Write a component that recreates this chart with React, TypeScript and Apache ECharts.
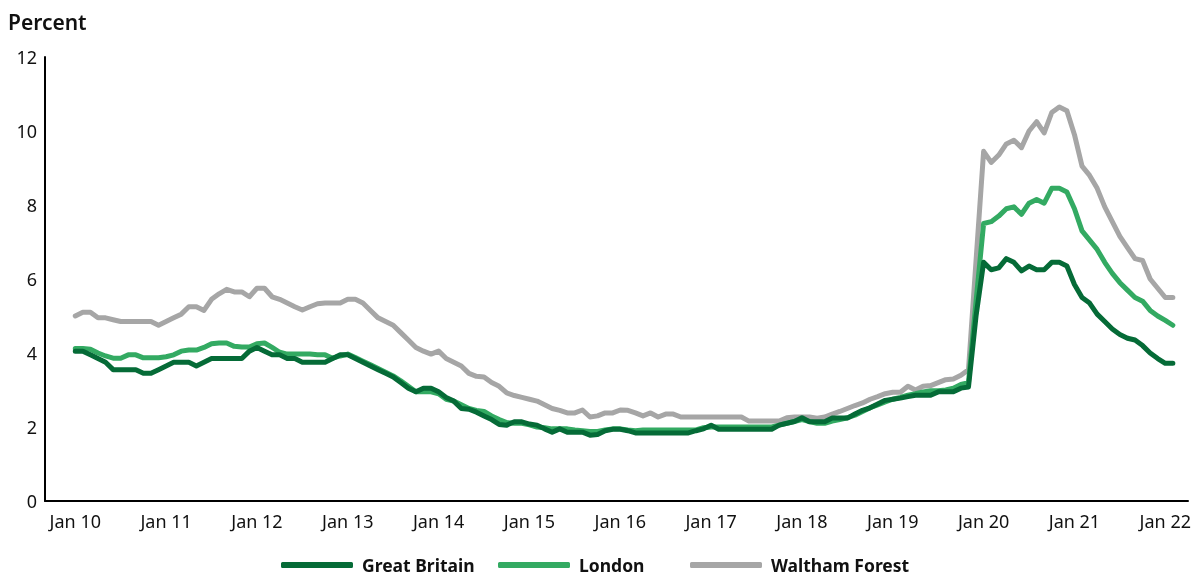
import React, { useEffect, useRef } from "react";
import * as echarts from "echarts";

const MONTH_NAMES = ["Jan", "Feb", "Mar", "Apr", "May", "Jun", "Jul", "Aug", "Sep", "Oct", "Nov", "Dec"];
const YEAR_LABELS = ["10", "11", "12", "13", "14", "15", "16", "17", "18", "19", "20", "21", "22"];

const greatBritain = [
  4.05, 4.05, 3.95, 3.85, 3.75, 3.55, 3.55, 3.55, 3.55, 3.45, 3.45, 3.55,
  3.65, 3.75, 3.75, 3.75, 3.65, 3.75, 3.85, 3.85, 3.85, 3.85, 3.85, 4.05,
  4.15, 4.05, 3.95, 3.95, 3.85, 3.85, 3.75, 3.75, 3.75, 3.75, 3.85, 3.95,
  3.95, 3.85, 3.75, 3.65, 3.55, 3.45, 3.35, 3.2, 3.05, 2.95, 3.05, 3.05,
  2.95, 2.8, 2.7, 2.5, 2.48, 2.4, 2.3, 2.2, 2.07, 2.05, 2.14, 2.14,
  2.08, 2.05, 1.95, 1.86, 1.95, 1.86, 1.86, 1.86, 1.78, 1.8, 1.9, 1.94,
  1.94, 1.9, 1.84, 1.84, 1.84, 1.84, 1.84, 1.84, 1.84, 1.84, 1.9, 1.95,
  2.05, 1.94, 1.94, 1.94, 1.94, 1.94, 1.94, 1.94, 1.94, 2.05, 2.1, 2.15,
  2.25, 2.14, 2.14, 2.14, 2.24, 2.24, 2.24, 2.35, 2.45, 2.52, 2.62, 2.72,
  2.75, 2.78, 2.82, 2.86, 2.86, 2.86, 2.95, 2.95, 2.95, 3.05, 3.08, 5.0,
  6.45, 6.25, 6.3, 6.55, 6.45, 6.22, 6.35, 6.25, 6.25, 6.45, 6.45, 6.35,
  5.85, 5.5, 5.35, 5.05, 4.85, 4.65, 4.5, 4.4, 4.35, 4.2, 4.0, 3.85,
  3.72, 3.72,
];

const london = [
  4.12, 4.12, 4.1, 4.0, 3.92, 3.86, 3.86, 3.95, 3.95, 3.87, 3.87, 3.87,
  3.9, 3.95, 4.05, 4.08, 4.08, 4.15, 4.25, 4.27, 4.27, 4.18, 4.16, 4.16,
  4.25, 4.27, 4.15, 4.02, 3.97, 3.97, 3.97, 3.97, 3.95, 3.95, 3.86, 3.92,
  3.97, 3.88, 3.78, 3.68, 3.58, 3.48, 3.38, 3.25, 3.1, 2.95, 2.95, 2.95,
  2.9, 2.75, 2.7, 2.6, 2.5, 2.45, 2.42, 2.3, 2.2, 2.12, 2.1, 2.1,
  2.06, 2.0, 1.98, 1.95, 1.95, 1.95, 1.92, 1.9, 1.88, 1.88, 1.92, 1.95,
  1.95, 1.92, 1.9, 1.92, 1.92, 1.92, 1.92, 1.92, 1.92, 1.92, 1.92, 1.98,
  2.0, 2.0, 2.0, 2.0, 2.0, 2.0, 2.0, 2.0, 2.0, 2.05, 2.1, 2.15,
  2.2, 2.15, 2.1, 2.1, 2.16, 2.2, 2.25, 2.32, 2.42, 2.52, 2.6, 2.68,
  2.75, 2.8, 2.86, 2.9, 2.95, 2.98, 2.98, 3.0, 3.05, 3.15, 3.2, 5.4,
  7.5, 7.55, 7.7, 7.9, 7.95, 7.75, 8.05, 8.15, 8.05, 8.45, 8.45, 8.35,
  7.9, 7.3, 7.05, 6.8, 6.45, 6.15, 5.9, 5.7, 5.5, 5.4, 5.15, 5.0,
  4.88, 4.75,
];

const walthamForest = [
  5.0, 5.1, 5.1, 4.95, 4.95, 4.9, 4.85, 4.85, 4.85, 4.85, 4.85, 4.75,
  4.85, 4.95, 5.05, 5.25, 5.25, 5.15, 5.45, 5.6, 5.72, 5.65, 5.65, 5.52,
  5.75, 5.75, 5.52, 5.45, 5.35, 5.25, 5.16, 5.25, 5.33, 5.35, 5.35, 5.35,
  5.45, 5.45, 5.35, 5.15, 4.95, 4.85, 4.75, 4.55, 4.35, 4.15, 4.05, 3.97,
  4.05, 3.85, 3.75, 3.65, 3.45, 3.37, 3.35, 3.2, 3.1, 2.92, 2.85, 2.8,
  2.75, 2.7, 2.6, 2.5, 2.45, 2.38, 2.38, 2.46, 2.27, 2.3, 2.38, 2.38,
  2.46, 2.45, 2.38, 2.3, 2.38, 2.27, 2.35, 2.35, 2.27, 2.27, 2.27, 2.27,
  2.27, 2.27, 2.27, 2.27, 2.27, 2.16, 2.16, 2.16, 2.16, 2.16, 2.25, 2.27,
  2.27, 2.27, 2.24, 2.27, 2.35, 2.42, 2.5, 2.58, 2.65, 2.75, 2.82, 2.9,
  2.94, 2.94, 3.1, 3.0, 3.1, 3.12, 3.2, 3.28, 3.3, 3.4, 3.55, 6.5,
  9.45, 9.15, 9.35, 9.65, 9.75, 9.55, 10.0, 10.25, 9.95, 10.5, 10.65, 10.55,
  9.9, 9.05, 8.8, 8.45, 7.95, 7.55, 7.15, 6.85, 6.55, 6.5, 6.0, 5.75,
  5.5, 5.5,
];

const PAD_BEFORE = 4;
const PAD_AFTER = 2;

const months: string[] = [];
for (const y of YEAR_LABELS) {
  for (const m of MONTH_NAMES) {
    if (months.length < greatBritain.length) months.push(`${m} ${y}`);
  }
}

const pad = (n: number) => Array.from({ length: n }, () => null as number | null);
const categories = [...pad(PAD_BEFORE).map(() => ""), ...months, ...pad(PAD_AFTER).map(() => "")];
const padSeries = (arr: number[]) => [...pad(PAD_BEFORE), ...arr, ...pad(PAD_AFTER)];

const FONT = "'Noto Sans', sans-serif";

export default function App() {
  const ref = useRef<HTMLDivElement>(null);
  useEffect(() => {
    if (!ref.current) return;
    const chart = echarts.init(ref.current, null, { renderer: "svg" });
    const legendBase = {
      icon: "roundRect",
      itemWidth: 72,
      itemHeight: 6,
      top: 556,
      padding: 0,
      textStyle: {
        fontSize: 17.5,
        lineHeight: 18,
        fontWeight: "bold",
        color: "#111",
        fontFamily: FONT,
        padding: [0, 0, 0, 4],
      },
    };
    const lineSeries = (name: string, data: number[], color: string, z: number) => ({
      name,
      type: "line",
      data: padSeries(data),
      showSymbol: false,
      symbol: "none",
      z,
      lineStyle: { color, width: 5, cap: "round", join: "round" },
      itemStyle: { color },
    });
    chart.setOption({
      animation: false,
      textStyle: { fontFamily: FONT },
      title: {
        text: "Percent",
        left: 3,
        top: 6,
        textStyle: { fontSize: 21, fontWeight: 600, color: "#111", fontFamily: FONT },
      },
      grid: { left: 45, right: 14, top: 57, bottom: 76 },
      legend: [
        { ...legendBase, left: 281, data: ["Great Britain"] },
        { ...legendBase, left: 498, data: ["London"] },
        { ...legendBase, left: 690, data: ["Waltham Forest"] },
      ],
      xAxis: {
        type: "category",
        data: categories,
        boundaryGap: false,
        axisLine: { show: true, lineStyle: { color: "#000", width: 2 } },
        axisTick: { show: false },
        splitLine: { show: false },
        axisLabel: {
          interval: (_i: number, v: string) => v.startsWith("Jan"),
          fontSize: 18,
          color: "#111",
          margin: 11,
          fontFamily: FONT,
        },
      },
      yAxis: {
        type: "value",
        min: 0,
        max: 12,
        interval: 2,
        axisLine: { show: true, lineStyle: { color: "#000", width: 2 } },
        axisTick: { show: false },
        splitLine: { show: false },
        axisLabel: { fontSize: 18, color: "#111", margin: 8, fontFamily: FONT },
      },
      series: [
        lineSeries("Waltham Forest", walthamForest, "#a6a6a6", 2),
        lineSeries("London", london, "#33aa62", 3),
        lineSeries("Great Britain", greatBritain, "#056b37", 4),
      ],
    });
    return () => chart.dispose();
  }, []);
  return <div ref={ref} style={{ position: "fixed", left: 0, top: 0, width: 1202, height: 577 }} />;
}
